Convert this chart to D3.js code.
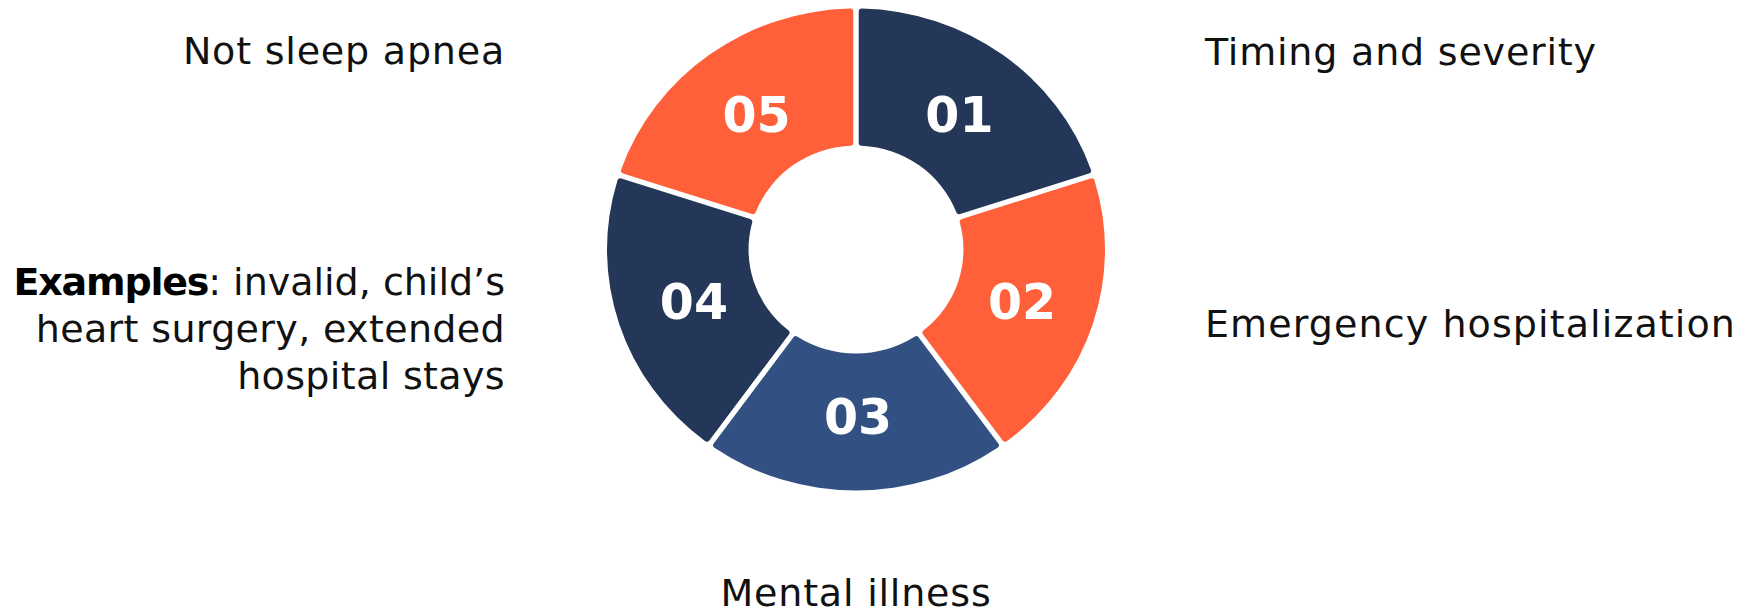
<!DOCTYPE html>
<html>
<head>
<meta charset="utf-8">
<script src="https://cdn.jsdelivr.net/npm/d3@7"></script>
<style>
  html, body { margin: 0; padding: 0; background: #ffffff; }
  svg { display: block; }
  text { font-family: "DejaVu Sans", "Open Sans", sans-serif; }
</style>
</head>
<body>
<svg id="chart" width="1758" height="614"></svg>
<script>
// ---- data ----
const segmentIds = ["01", "02", "03", "04", "05"];
const segmentValues = [1, 1, 1, 1, 1];
const segmentColors = ["#243759", "#FF5F39", "#325082", "#243759", "#FF5F39"];
const rightLabels = ["Timing and severity", "Emergency hospitalization"];
const leftLabels = ["Not sleep apnea"];
const exampleLines = [["Examples", ": invalid, child\u2019s"], ["", "heart surgery, extended"], ["", "hospital stays"]];
const bottomLabels = ["Mental illness"];

// ---- layout ----
const cx = 856, cy = 249.5;
const outerR = 241, innerR = 104;
const xStretch = 249 / 241;
const svg = d3.select("#chart");

const pie = d3.pie().value(d => d).sort(null).startAngle(0).endAngle(2 * Math.PI);
const arcs = pie(segmentValues);
const arc = d3.arc().innerRadius(innerR).outerRadius(outerR).padAngle(0.02).cornerRadius(3);
const labelArc = d3.arc().innerRadius(167).outerRadius(167);

const g = svg.append("g").attr("transform", `translate(${cx},${cy})`);
g.append("g").attr("transform", `scale(${xStretch},1)`)
  .selectAll("path.seg").data(arcs).join("path")
  .attr("class", "seg")
  .attr("d", arc)
  .attr("fill", (d, i) => segmentColors[i]);

g.selectAll("text.num").data(arcs).join("text")
  .attr("class", "num")
  .attr("transform", d => { const c = labelArc.centroid(d); return `translate(${c[0] * xStretch + 2},${c[1] + 1})`; })
  .attr("text-anchor", "middle")
  .attr("dominant-baseline", "central")
  .attr("fill", "#ffffff")
  .attr("font-weight", 700)
  .attr("font-size", 49)
  .text((d, i) => segmentIds[i]);

const fs = 38;
const labelStyle = sel => sel.attr("font-size", fs).attr("fill", "#111111").attr("font-weight", 400);

svg.append("text").call(labelStyle).attr("letter-spacing", 0.8).attr("x", 1205).attr("y", 65).text(rightLabels[0]);
svg.append("text").call(labelStyle).attr("letter-spacing", 1.1).attr("x", 1205).attr("y", 337).text(rightLabels[1]);
svg.append("text").call(labelStyle).attr("letter-spacing", 0.8).attr("x", 505).attr("y", 64).attr("text-anchor", "end").text(leftLabels[0]);
svg.append("text").call(labelStyle).attr("letter-spacing", 0.8).attr("x", cx).attr("y", 606).attr("text-anchor", "middle").text(bottomLabels[0]);

exampleLines.forEach((ln, i) => {
  const t = svg.append("text").call(labelStyle)
    .attr("x", 505).attr("y", 295 + i * 47).attr("text-anchor", "end");
  if (ln[0]) t.append("tspan").attr("font-weight", 700).attr("fill", "#000").attr("letter-spacing", -1.2).text(ln[0]);
  t.append("tspan").attr("letter-spacing", i === 0 ? 0 : 0.35).text(ln[1]);
});
</script>
</body>
</html>
